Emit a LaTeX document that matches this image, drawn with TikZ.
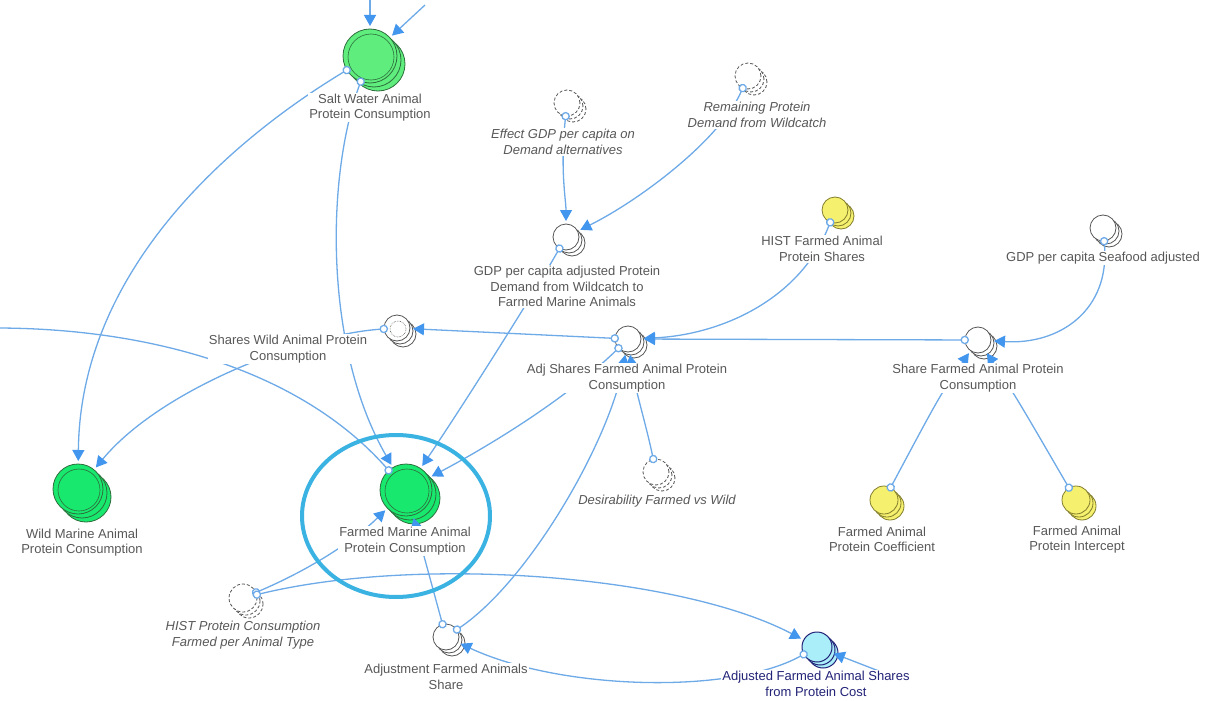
\documentclass[tikz,border=0pt]{standalone}
\usepackage{fontspec}
\setmainfont{Liberation Sans}
\usetikzlibrary{arrows.meta}

\definecolor{lnk}{RGB}{110,170,232}
\definecolor{tipblue}{RGB}{66,150,238}
\definecolor{lblgray}{RGB}{88,88,88}
\definecolor{navy}{RGB}{35,35,120}
\definecolor{gsalt}{RGB}{95,238,125}
\definecolor{gstock}{RGB}{25,232,110}
\definecolor{gedge}{RGB}{45,110,60}
\definecolor{yel}{RGB}{245,240,110}
\definecolor{yedge}{RGB}{130,125,45}
\definecolor{cyanf}{RGB}{170,238,250}
\definecolor{ringblue}{RGB}{58,178,226}
\definecolor{cedge}{RGB}{85,85,85}

\tikzset{
  lk/.style={draw=lnk, line width=1.3pt,
    {Circle[length=8.5pt,fill=white]}-{Triangle[length=11pt,width=12pt,color=tipblue]},
    shorten <=-4pt, shorten >=3pt},
  lkin/.style={draw=lnk, line width=1.3pt,
    -{Triangle[length=11pt,width=12pt,color=tipblue]}, shorten >=3pt},
  lkout/.style={draw=lnk, line width=1.3pt,
    {Circle[length=8.5pt,fill=white]}-, shorten <=-4pt},
  lbl/.style={font=\fontsize{13}{15.5}\selectfont, text=lblgray, fill=white,
    inner sep=1pt, align=center},
  ital/.style={lbl, font=\fontsize{13}{15.5}\selectfont\itshape},
  stockg/.style={draw=gedge, fill=gstock, line width=0.8pt},
  saltg/.style={draw=gedge, fill=gsalt, line width=0.8pt},
  conv/.style={draw=cedge, fill=white, line width=0.8pt},
  ghost/.style={draw=cedge, fill=white, line width=0.8pt, dash pattern=on 3pt off 2pt},
  yelc/.style={draw=yedge, fill=yel, line width=0.8pt},
  cyc/.style={draw=navy, fill=cyanf, line width=1pt},
}

% stacked circle: name, x, y, radius, offset, style
\newcommand\stk[6]{%
  \draw[#6] (#2+2*#5, #3+2*#5) circle[radius=#4pt];
  \draw[#6] (#2+#5, #3+#5) circle[radius=#4pt];
  \node[circle, inner sep=0pt, outer sep=0pt, minimum size=2*#4pt, #6] (#1) at (#2,#3) {};
}

\begin{document}
\begin{tikzpicture}[x=1pt,y=-1pt]
\fill[white] (0,0) rectangle (1211,701);
\useasboundingbox (0,0) rectangle (1211,701);

% ---- variables ----
\stk{salt}{370}{56}{27}{4}{saltg}
\draw[gedge, line width=0.6pt] (371,57) circle[radius=23pt];
\stk{wild}{78}{489}{25}{4}{stockg}
\draw[gedge, line width=0.6pt] (79,490) circle[radius=21pt];
\stk{farmed}{406}{490}{26}{4}{stockg}
\draw[gedge, line width=0.6pt] (407,491) circle[radius=22pt];

\stk{sharesw}{397}{328}{13}{3}{conv}
\draw[cedge, densely dotted, line width=0.6pt] (398,329) circle[radius=8pt];
\stk{adjsh}{628}{339}{13}{3}{conv}
\stk{sharef}{978}{340}{13}{3}{conv}
\stk{gdpadj}{566}{237}{13}{3}{conv}
\stk{gdpsea}{1103}{228}{13}{3}{conv}
\stk{adjust}{446}{637}{13}{3}{conv}

\stk{effect}{567}{103}{13}{3}{ghost}
\stk{remain}{748}{76}{13}{3}{ghost}
\stk{desir}{656}{472}{13}{3}{ghost}
\stk{histp}{243}{598}{14}{3}{ghost}

\stk{histfs}{835}{210}{13}{3}{yelc}
\stk{coef}{884}{500}{14}{3}{yelc}
\stk{inter}{1076}{500}{14}{3}{yelc}

\stk{adjf}{817}{647}{15}{3}{cyc}

% ---- free ends ----
\coordinate (top1) at (370,-5);
\coordinate (top2) at (425,5);
\coordinate (west) at (-5,328);
\coordinate (under) at (884,673);

% ---- links ----
\draw[lkin] (top1) -- (salt);
\draw[lkin] (top2) -- (salt);
\draw[lk] (salt) .. controls (215,150) and (80,280) .. (wild);
\draw[lk] (salt) .. controls (325,180) and (325,350) .. (farmed);
\draw[lk] (effect) .. controls (560,170) and (566,200) .. (gdpadj);
\draw[lk] (remain) .. controls (720,140) and (640,200) .. (gdpadj);
\draw[lk] (gdpadj) .. controls (530,300) and (460,410) .. (farmed);
\draw[lk] (histfs) .. controls (800,300) and (720,335) .. (adjsh);
\draw[lk] (sharef) -- (adjsh);
\draw[lk] (gdpsea) .. controls (1110,310) and (1060,345) .. (sharef);
\draw[lk] (adjsh) -- (sharesw);
\draw[lk] (sharesw) .. controls (300,335) and (160,390) .. (wild);
\draw[lkout] (farmed) .. controls (300,370) and (150,328) .. (west);
\draw[lk] (adjsh) .. controls (570,395) and (500,440) .. (farmed);
\draw[lk] (desir) .. controls (645,420) and (635,390) .. (adjsh);
\draw[lk] (adjust) .. controls (530,580) and (610,440) .. (adjsh);
\draw[lk] (adjust) -- (farmed);
\draw[lk] (histp) .. controls (320,565) and (360,535) .. (farmed);
\draw[lk] (histp) .. controls (420,555) and (680,575) .. (adjf);
\draw[lk] (adjf) .. controls (730,695) and (560,690) .. (adjust);
\draw[lkin] (under) -- (adjf);
\draw[lk] (coef) .. controls (940,395) .. (sharef);
\draw[lk] (inter) .. controls (1015,395) .. (sharef);

% ---- labels ----
\node[lbl] (lsalt) at (370,107.5) {Salt Water Animal\\Protein Consumption};
\node[ital] (leffect) at (563,142) {Effect GDP per capita on\\Demand alternatives};
\node[ital] (lremain) at (757,115) {Remaining Protein\\Demand from Wildcatch};
\node[lbl] (lgdpadj) at (567,286.5) {GDP per capita adjusted Protein\\Demand from Wildcatch to\\Farmed Marine Animals};
\node[lbl] (lhistfs) at (822,249) {HIST Farmed Animal\\Protein Shares};
\node[lbl] (lgdpsea) at (1103,258) {GDP per capita Seafood adjusted};
\node[lbl] (lsharesw) at (288,349) {Shares Wild Animal Protein\\Consumption};
\node[lbl] (ladjsh) at (627,378) {Adj Shares Farmed Animal Protein\\Consumption};
\node[lbl] (lsharef) at (978,378) {Share Farmed Animal Protein\\Consumption};
\node[lbl] (lwild) at (82,542.5) {Wild Marine Animal\\Protein Consumption};
\node[lbl] (lfarmed) at (405,541) {Farmed Marine Animal\\Protein Consumption};
\node[ital] (ldesir) at (657,501) {Desirability Farmed vs Wild};
\node[lbl] (lcoef) at (882,539.5) {Farmed Animal\\Protein Coefficient};
\node[lbl] (linter) at (1077,539.5) {Farmed Animal\\Protein Intercept};
\node[ital] (lhistp) at (243,635) {HIST Protein Consumption\\Farmed per Animal Type};
\node[lbl] (ladjust) at (446,677) {Adjustment Farmed Animals\\Share};
\node[lbl, text=navy] (ladjf) at (816,684) {Adjusted Farmed Animal Shares\\from Protein Cost};

% ---- highlight ring ----
\draw[ringblue, line width=4pt] (396,516) ellipse[x radius=94pt, y radius=81pt];
\end{tikzpicture}
\end{document}
